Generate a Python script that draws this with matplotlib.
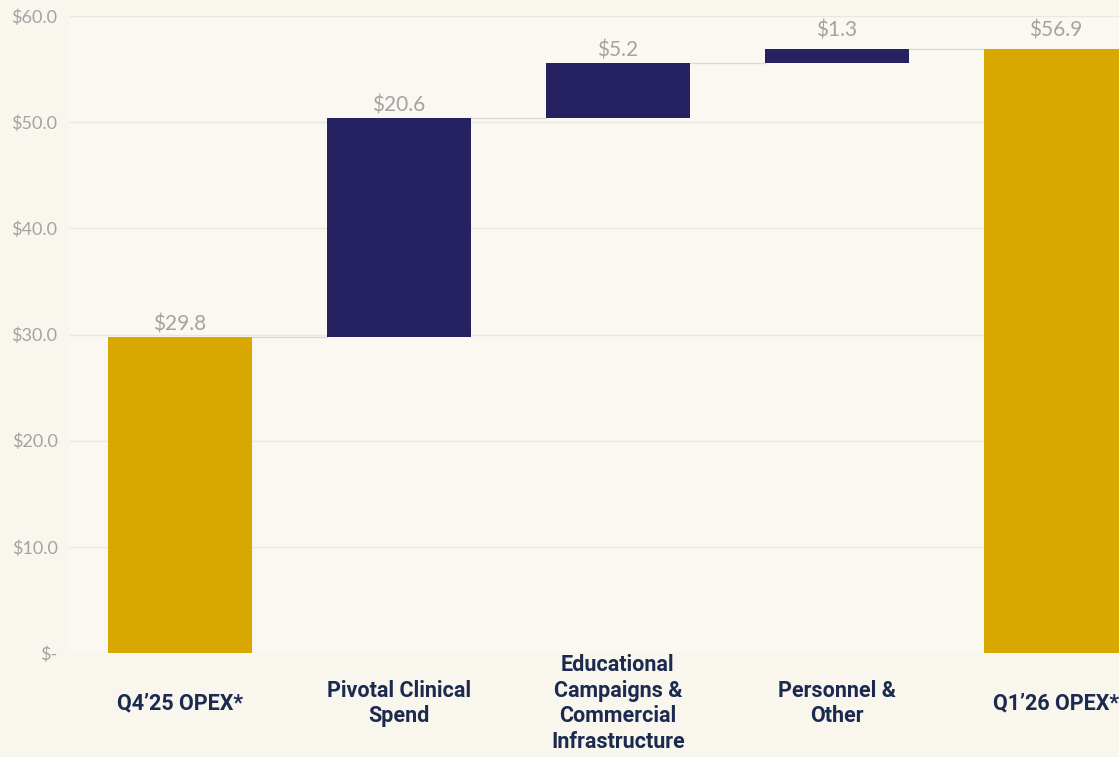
import matplotlib
matplotlib.use("Agg")
import matplotlib.pyplot as plt
import numpy as np

# waterfall data ($M)
categories = ["Q4\u201925 OPEX*", "Pivotal Clinical\nSpend",
              "Educational\nCampaigns &\nCommercial\nInfrastructure",
              "Personnel &\nOther", "Q1\u201926 OPEX*"]
deltas = [29.8, 20.6, 5.2, 1.3, 56.9]
is_total = [True, False, False, False, True]
value_labels = ["$29.8", "$20.6", "$5.2", "$1.3", "$56.9"]
yticks = [0, 10, 20, 30, 40, 50, 60]
ytick_labels = ["$-", "$10.0", "$20.0", "$30.0", "$40.0", "$50.0", "$60.0"]

GOLD = "#d9a800"
NAVY = "#262261"
BG = "#f9f6ee"
GRID = "#ebe7dd"
GRAY = "#a3a3a3"
LABEL = "#1b2a4e"

# running bottoms for the floating bars
bottoms, running = [], 0.0
for d, tot in zip(deltas, is_total):
    if tot:
        bottoms.append(0.0)
        running = d
    else:
        bottoms.append(running)
        running += d
tops = [b + d for b, d in zip(bottoms, deltas)]

fig = plt.figure(figsize=(11.19, 7.57), dpi=100, facecolor=BG)
ax = fig.add_axes([70 / 1119, (757 - 653) / 757, 1 - 70 / 1119, (653 - 16) / 757])
ax.set_facecolor("#faf8f1")

x = np.arange(len(categories))
width = 0.66
colors = [GOLD if t else NAVY for t in is_total]
ax.bar(x, deltas, bottom=bottoms, width=width, color=colors, zorder=3)

# connectors between consecutive bars
for i in range(len(x) - 1):
    ax.plot([x[i] + width / 2, x[i + 1] - width / 2], [tops[i], tops[i]],
            color="#dddad2", lw=1, zorder=2)

for xi, top, lab in zip(x, tops, value_labels):
    off = 6 if top > 56 else 1.5
    ax.annotate(lab, (xi, top), xytext=(0, off), textcoords="offset points",
                ha="center", va="bottom", fontsize=15, color=GRAY,
                family="Lato", clip_on=False)

ax.set_ylim(0, 60)
ax.set_xlim(-0.502, 4.288)
ax.set_yticks(yticks)
ax.set_yticklabels(ytick_labels, fontsize=13, color=GRAY, family="Lato")
ax.tick_params(axis="y", length=0, pad=9)
ax.set_xticks([])
ax.grid(axis="y", color=GRID, lw=1, zorder=0)
for s in ax.spines.values():
    s.set_visible(False)

for xi, cat in zip(x, categories):
    ax.text(xi, -4.75, cat, ha="center", va="center", fontsize=15.5,
            fontweight="bold", color=LABEL, family="Roboto",
            linespacing=1.2, clip_on=False)

fig.savefig("out.png", dpi=100, facecolor=BG)
